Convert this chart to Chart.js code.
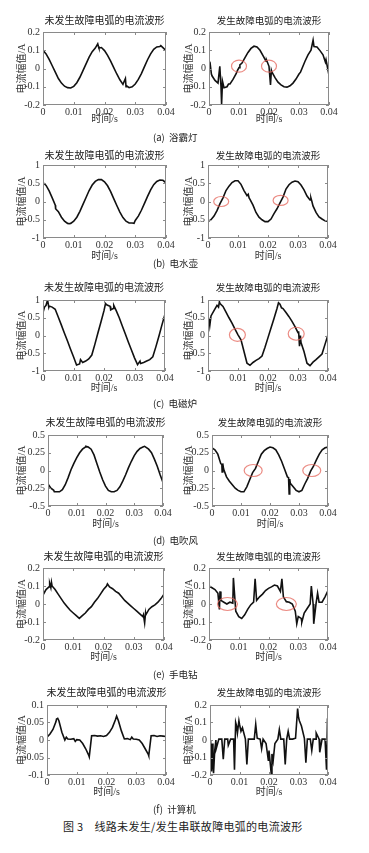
<!DOCTYPE html>
<html lang="zh">
<head>
<meta charset="UTF-8">
<title>线路未发生/发生串联故障电弧的电流波形</title>
<style>
  body { margin: 0; background: #fff; }
  #fig { position: relative; width: 369px; height: 853px; overflow: hidden; }
  #fig canvas { position: absolute; }
  .ttl { position: absolute; transform: translateX(-50%); white-space: nowrap; font-family: "Noto Sans CJK SC"; color: #1a1a1a; line-height: 14px; }
  .cap { position: absolute; white-space: pre; font-family: "Noto Sans CJK SC"; font-size: 9.5px; line-height: 12px; color: #222; }
  .fig-cap { position: absolute; white-space: pre; font-family: "Noto Sans CJK SC"; font-size: 11px; line-height: 14px; color: #222; letter-spacing: 0.3px; }
</style>
</head>
<body>
<div id="fig"></div>
<script src="https://cdn.jsdelivr.net/npm/chart.js"></script>
<script>
// time axis (s), one sample per ms
const T = [0,0.001,0.002,0.003,0.004,0.005,0.006,0.007,0.008,0.009,
  0.01,0.011,0.012,0.013,0.014,0.015,0.016,0.017,0.018,0.019,
  0.02,0.021,0.022,0.023,0.024,0.025,0.026,0.027,0.028,0.029,
  0.03,0.031,0.032,0.033,0.034,0.035,0.036,0.037,0.038,0.039,0.04];

const xTicks = [0, 0.01, 0.02, 0.03, 0.04];
const yTicks02 = [-0.2, -0.1, 0, 0.1, 0.2];
const yTicks1 = [-1, -0.5, 0, 0.5, 1];
const yTicks05 = [-0.5, -0.25, 0, 0.25, 0.5];
const yTicks01 = [-0.1, -0.05, 0, 0.05, 0.1];

const titleNormal = '未发生故障电弧的电流波形';
const titleArc = '发生故障电弧的电流波形';
const yTitle = '电流幅值/A';
const xTitle = '时间/s';
const captions = ['(a)  浴霸灯', '(b)  电水壶', '(c)  电磁炉', '(d)  电吹风', '(e)  手电钻', '(f)  计算机'];
const figCaption = '图 3    线路未发生/发生串联故障电弧的电流波形';

// (a) 浴霸灯
const aNormal = [0.1,0.08,0.05,0.015,-0.02,-0.055,-0.08,-0.097,-0.105,-0.107,
  -0.098,-0.078,-0.048,-0.012,0.025,0.062,0.092,0.112,0.122,0.115,
  0.098,0.072,0.04,0.005,-0.03,-0.062,-0.087,-0.1,-0.105,-0.1,
  -0.085,-0.06,-0.028,0.01,0.048,0.08,0.105,0.118,0.12,0.114,0.098];
const aNormalSpk = [[0.0004,0.092],[0.0178,0.135],[0.0182,0.112],[0.0268,-0.055],[0.0272,-0.095],[0.0383,0.125]];
const aArc = [0.01,-0.04,-0.065,-0.08,-0.1,-0.105,-0.1,-0.085,-0.06,-0.03,
  0.005,0.03,0.06,0.088,0.11,0.122,0.118,0.1,0.07,0.04,
  0.012,-0.02,-0.05,-0.075,-0.09,-0.1,-0.102,-0.095,-0.08,-0.058,
  -0.03,0,0.04,0.075,0.1,0.12,0.118,0.098,0.075,0.048,0.015];
const aArcSpk = [[0.0004,0.025],[0.0008,-0.03],[0.0036,0.012],[0.0042,-0.195],[0.0045,-0.07],[0.0065,-0.085],
  [0.0095,-0.01],[0.0103,0.02],[0.0192,0.045],[0.0205,-0.09],[0.0208,-0.01],[0.0305,-0.02],[0.0347,0.155],
  [0.0388,0.035],[0.0398,-0.02]];
const aMarks = [[0.01,0.013],[0.02,0.013]];

// (b) 电水壶
const bNormal = [0.52,0.44,0.29,0.1,-0.1,-0.28,-0.43,-0.54,-0.6,-0.6,
  -0.54,-0.43,-0.27,-0.08,0.11,0.3,0.45,0.55,0.6,0.6,
  0.54,0.43,0.27,0.08,-0.11,-0.29,-0.44,-0.54,-0.59,-0.59,
  -0.52,-0.4,-0.24,-0.05,0.14,0.32,0.46,0.55,0.59,0.58,0.51];
const bNormalSpk = [[0.0041,-0.2],[0.0085,-0.61],[0.0296,-0.6]];
const bArc = [-0.55,-0.5,-0.4,-0.25,-0.06,0.1,0.3,0.42,0.52,0.57,
  0.57,0.47,0.3,0.16,0.06,-0.1,-0.3,-0.43,-0.5,-0.55,
  -0.55,-0.48,-0.33,-0.2,-0.04,0.12,0.34,0.46,0.53,0.56,
  0.54,0.45,0.32,0.15,0.04,-0.12,-0.3,-0.42,-0.48,-0.53,-0.55];
const bArcSpk = [[0.0134,0.2],[0.0137,0.1],[0.0343,0.1],[0.0347,-0.02]];
const bMarks = [[0.0044,0],[0.0242,0.03]];

// (c) 电磁炉
const cNormal = [0.65,0.85,0.83,0.8,0.74,0.52,0.3,0.07,-0.15,-0.38,
  -0.6,-0.83,-0.8,-0.76,-0.72,-0.66,-0.55,-0.25,0.07,0.38,
  0.7,0.86,0.82,0.76,0.7,0.5,0.27,0.04,-0.19,-0.41,
  -0.63,-0.82,-0.79,-0.76,-0.72,-0.68,-0.6,-0.32,-0.02,0.3,0.6];
const cNormalSpk = [[0.0005,0.8],[0.0015,1.0],[0.0019,0.8],[0.0123,-0.68],[0.0205,0.9],[0.0222,0.72],[0.0232,0.85],[0.0318,-0.72]];
const cArc = [0.38,0.55,0.7,0.85,0.9,0.82,0.66,0.5,0.35,0.18,
  0.02,-0.12,-0.45,-0.78,-0.84,-0.76,-0.7,-0.65,-0.58,-0.33,
  -0.06,0.21,0.48,0.76,0.88,0.76,0.65,0.53,0.4,0.25,
  0.08,-0.2,-0.45,-0.78,-0.85,-0.75,-0.68,-0.6,-0.52,-0.25,0.02];
const cArcSpk = [[0.0003,0.5],[0.0006,0.28],[0.0035,0.8],[0.0038,0.95],[0.0235,0.92],[0.0245,0.78],
  [0.0302,0.12],[0.0305,-0.3],[0.0308,0]];
const cMarks = [[0.0098,0.02],[0.0294,0.05]];

// (d) 电吹风
const dNormal = [-0.19,-0.25,-0.28,-0.3,-0.3,-0.27,-0.2,-0.1,0.01,0.1,
  0.18,0.25,0.3,0.33,0.33,0.3,0.22,0.1,-0.02,-0.13,
  -0.22,-0.28,-0.3,-0.3,-0.28,-0.23,-0.15,-0.06,0.04,0.13,
  0.21,0.27,0.31,0.33,0.33,0.3,0.25,0.16,0.06,-0.06,-0.17];
const dNormalSpk = [[0.0022,-0.3],[0.0132,0.34],[0.0336,0.34]];
const dArc = [0.32,0.29,0.23,0.1,0.02,-0.09,-0.15,-0.2,-0.25,-0.28,
  -0.3,-0.3,-0.23,-0.13,-0.03,0.03,0.13,0.23,0.28,0.31,
  0.33,0.32,0.29,0.22,0.13,0.02,-0.09,-0.18,-0.23,-0.28,
  -0.3,-0.28,-0.19,-0.11,-0.01,0.06,0.15,0.23,0.29,0.32,0.33];
const dArcSpk = [[0.0034,0.08],[0.0035,-0.02],[0.0037,0.1],[0.0264,-0.1],[0.0266,-0.33],[0.0268,-0.12]];
const dMarks = [[0.0142,0],[0.0344,0]];

// (e) 手电钻
const eNormal = [0.05,0.08,0.095,0.1,0.08,0.055,0.03,0.005,-0.015,-0.035,
  -0.05,-0.065,-0.08,-0.065,-0.05,-0.03,-0.015,0.01,0.03,0.055,
  0.08,0.1,0.095,0.085,0.07,0.06,0.04,0.02,0.005,-0.01,
  -0.025,-0.04,-0.055,-0.07,-0.06,-0.03,-0.015,-0.005,0.01,0.03,0.055];
const eNormalSpk = [[0.0022,0.115],[0.0026,0.09],[0.0028,0.12],[0.0213,0.112],[0.0332,-0.06],[0.0336,-0.105],[0.0339,-0.05]];
const eArc = [0.1,0.09,0.08,0.06,0.02,0.01,0,0.01,0.005,-0.04,
  -0.07,-0.08,-0.06,-0.03,-0.005,0.01,0.02,0.04,0.055,0.075,
  0.087,0.095,0.105,0.1,0.07,0.04,0.013,0.01,0,-0.04,
  -0.07,-0.08,-0.05,-0.025,0,0,0.005,0.01,0.01,0.04,0.075];
const eArcSpk = [[0.0035,-0.03],[0.0037,0.07],[0.0082,0.145],[0.0155,0.14],[0.0245,0.14],[0.0295,-0.11],
  [0.0312,-0.1],[0.0344,0.1],[0.0352,-0.11],[0.0365,0.06]];
const eMarks = [[0.0062,0],[0.026,0]];

// (f) 计算机
const fNormal = [0.008,0.017,0.03,0.052,0.055,0.022,0,0.003,0.002,0.004,
  0.001,0,-0.01,-0.025,-0.043,0.012,0.013,0.011,0.012,0.01,
  0.013,0.022,0.036,0.058,0.055,0.026,0.003,0.004,0.001,0.003,
  0.002,0,-0.01,-0.025,-0.04,0.012,0.013,0.01,0.012,0.011,0.01];
const fNormalSpk = [[0.0032,0.06],[0.0036,0.062],[0.0065,0.008],[0.0095,-0.004],[0.0142,-0.048],[0.0234,0.068],[0.0285,0.008],[0.0342,-0.045]];
const fArc = [-0.1,-0.15,0,0.005,0.005,0.005,0.005,0.005,0.005,0.08,
  0.09,0.07,0.005,0.005,0.005,0.005,0.01,0.005,0.005,-0.02,
  -0.06,-0.08,-0.02,0.005,0.005,0.005,0.005,0.005,0.005,0.01,
  0.13,0.08,0.01,0.005,0.005,0.005,0.005,0.005,0.005,0.005,0.09];
const fArcSpk = [[0.0002,0],[0.0005,-0.18],[0.0008,-0.02],[0.0012,-0.19],[0.0016,-0.06],[0.0021,-0.05],[0.0045,-0.11],
  [0.0062,-0.03],[0.0083,-0.17],[0.0087,0.1],[0.0093,0.04],[0.0098,0.11],[0.0105,0.05],[0.0125,-0.14],[0.0155,0.09],
  [0.0175,-0.05],[0.0198,-0.12],[0.0208,-0.2],[0.0214,-0.12],[0.0235,0.06],[0.0255,-0.14],[0.0265,0.05],[0.0297,0.18],
  [0.0303,0.11],[0.0325,-0.13],[0.0345,-0.06],[0.036,0.04],[0.0372,-0.07],[0.0395,-0.17],[0.0398,0.1]];

// layout of the six rows (pixels)
const rows = [
  {top: 32,  bottom: 105, L: [43, 166], R: [209, 329], title: 20,  cap: 137, xt: 14, rx: 7.5, ry: 6},
  {top: 165, bottom: 238, L: [43, 166], R: [208, 328], title: 155, cap: 263, xt: 18, rx: 7.5, ry: 5},
  {top: 300, bottom: 371, L: [43, 165], R: [208, 328], title: 287, cap: 403, xt: 17, rx: 8, ry: 6.5},
  {top: 435, bottom: 506, L: [48, 163], R: [212, 328], title: 422, cap: 540, xt: 18, rx: 9, ry: 6},
  {top: 568, bottom: 640, L: [43, 164], R: [209, 328], title: 556, cap: 674, xt: 17, rx: 10, ry: 6.5},
  {top: 705, bottom: 775, L: [47, 166], R: [210, 328], title: 692, cap: 809, xt: 17, rx: 8, ry: 6}
];

const panels = [
  [aNormal, aNormalSpk, aArc, aArcSpk, aMarks, yTicks02, yTicks02],
  [bNormal, bNormalSpk, bArc, bArcSpk, bMarks, yTicks1, yTicks1],
  [cNormal, cNormalSpk, cArc, cArcSpk, cMarks, yTicks1, yTicks1],
  [dNormal, dNormalSpk, dArc, dArcSpk, dMarks, yTicks05, yTicks05],
  [eNormal, eNormalSpk, eArc, eArcSpk, eMarks, yTicks02, yTicks02],
  [fNormal, fNormalSpk, fArc, fArcSpk, [], yTicks01, yTicks02]
];

const serif = '"Liberation Serif", "Noto Sans CJK SC"';
const fig = document.getElementById('fig');

function series(vals, spikes) {
  const pts = T.map((t, i) => ({x: t, y: vals[i]}));
  spikes.forEach(([x, y]) => pts.push({x, y}));
  pts.sort((p, q) => p.x - q.x);
  return pts;
}

// box, inward tick marks and the red ellipses
const frame = {
  id: 'frame',
  afterDraw(chart, args, opts) {
    const {ctx, chartArea: a, scales: {x, y}} = chart;
    ctx.save();
    ctx.strokeStyle = '#8a8a8a';
    ctx.lineWidth = 1;
    ctx.beginPath();
    x.ticks.forEach(t => {
      const p = Math.round(x.getPixelForValue(t.value)) + 0.5;
      ctx.moveTo(p, a.bottom); ctx.lineTo(p, a.bottom - 3);
      ctx.moveTo(p, a.top); ctx.lineTo(p, a.top + 3);
    });
    y.ticks.forEach(t => {
      const p = Math.round(y.getPixelForValue(t.value)) + 0.5;
      ctx.moveTo(a.left, p); ctx.lineTo(a.left + 3, p);
      ctx.moveTo(a.right, p); ctx.lineTo(a.right - 3, p);
    });
    ctx.stroke();
    ctx.strokeRect(Math.round(a.left) + 0.5, Math.round(a.top) + 0.5, Math.round(a.width) - 1, Math.round(a.height) - 1);
    ctx.strokeStyle = 'rgba(228,100,90,0.75)';
    ctx.lineWidth = 1.2;
    (opts.marks || []).forEach(([mx, my]) => {
      ctx.beginPath();
      ctx.ellipse(x.getPixelForValue(mx), y.getPixelForValue(my), opts.rx, opts.ry, 0, 0, Math.PI * 2);
      ctx.stroke();
    });
    ctx.restore();
  }
};

function addText(cls, text, left, top, size) {
  const d = document.createElement('div');
  d.className = cls;
  d.textContent = text;
  d.style.left = left + 'px';
  d.style.top = top + 'px';
  if (size) d.style.fontSize = size + 'px';
  fig.appendChild(d);
}

function makeChart(row, side, vals, spikes, marks, yTicks) {
  const [L, R] = side === 'left' ? row.L : row.R;
  const colLeft = side === 'left' ? 0 : 183;
  const cw = side === 'left' ? 184 : 369 - 183;
  const padTop = 10, xH = 27;
  const ch = row.bottom - row.top + padTop + xH;
  const cv = document.createElement('canvas');
  cv.width = cw; cv.height = ch;
  cv.style.left = colLeft + 'px';
  cv.style.top = (row.top - padTop) + 'px';
  fig.appendChild(cv);

  new Chart(cv, {
    type: 'line',
    data: {
      datasets: [{
        data: series(vals, spikes),
        borderColor: '#111',
        borderWidth: 1.6,
        pointRadius: 0,
        tension: 0
      }]
    },
    plugins: [frame],
    options: {
      responsive: false,
      animation: false,
      layout: {padding: {top: padTop, left: 0, bottom: 0, right: cw - (R - colLeft)}},
      plugins: {
        legend: {display: false},
        tooltip: {enabled: false},
        frame: {marks, rx: row.rx, ry: row.ry}
      },
      scales: {
        x: {
          type: 'linear', min: 0, max: 0.04,
          grid: {display: false, drawTicks: false},
          border: {display: false},
          afterBuildTicks: s => { s.ticks = xTicks.map(v => ({value: v})); },
          afterFit: s => { s.height = xH; },
          ticks: {autoSkip: false, maxRotation: 0, padding: 1, color: '#333',
                  font: {family: serif, size: 10}, callback: v => String(v)},
          title: {display: true, text: xTitle, color: '#333',
                  font: {family: serif, size: 10},
                  padding: {top: 0, bottom: xH - row.xt - 6}}
        },
        y: {
          min: yTicks[0], max: yTicks[yTicks.length - 1],
          grid: {display: false, drawTicks: false},
          border: {display: false},
          afterBuildTicks: s => { s.ticks = yTicks.map(v => ({value: v})); },
          afterFit: s => { s.width = L - colLeft; },
          ticks: {padding: 3, color: '#333', font: {family: serif, size: 10}, callback: v => String(v)},
          title: {display: true, text: yTitle, color: '#333',
                  font: {family: serif, size: 10},
                  padding: {top: side === 'left' ? 16 : 0, bottom: 0}}
        }
      }
    }
  });
  const cx = (L + R) / 2;
  addText('ttl', side === 'left' ? titleNormal : titleArc, cx, row.title - 7, side === 'left' ? 10 : 9.5);
}

rows.forEach((row, i) => {
  const [nv, ns, av, as, mk, ytL, ytR] = panels[i];
  makeChart(row, 'left', nv, ns, [], ytL);
  makeChart(row, 'right', av, as, mk, ytR);
  addText('cap', captions[i], 153, row.cap - 6);
});
addText('fig-cap', figCaption, 63, 826 - 7);
</script>
</body>
</html>
